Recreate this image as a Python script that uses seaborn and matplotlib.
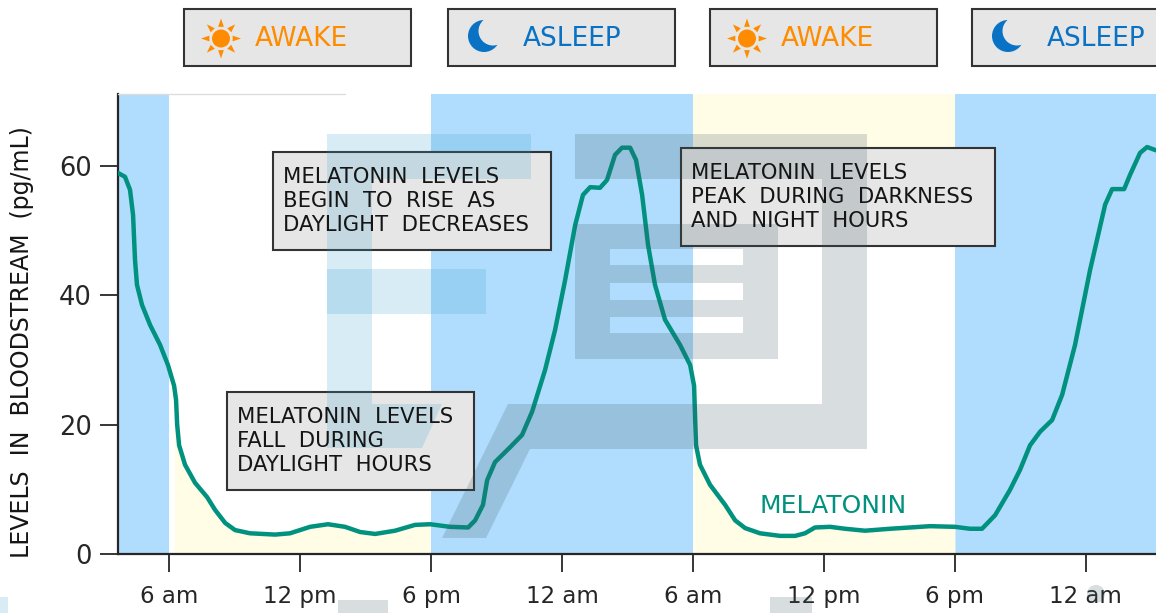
import numpy as np
import pandas as pd
import seaborn as sns
import matplotlib.pyplot as plt
from matplotlib.patches import Rectangle, Polygon, Circle

# hours counted from midnight of the first day
hours = [3.66, 3.98, 4.21, 4.35, 4.44, 4.53, 4.76, 5.13, 5.59, 5.95, 6.23, 6.32, 6.37, 6.46, 6.73,
         7.19, 7.74, 8.11, 8.57, 9.02, 9.71, 10.86, 11.54, 12.46, 13.28, 14.06, 14.75, 15.44, 16.35,
         17.27, 17.96, 18.87, 19.70, 20.02, 20.38, 20.57, 20.93, 21.62, 22.17, 22.63, 23.22, 23.68,
         24.14, 24.60, 24.96, 25.29, 25.74, 26.06, 26.43, 26.75, 27.12, 27.39, 27.67, 27.94, 28.26,
         28.72, 29.41, 29.87, 30.05, 30.10, 30.14, 30.32, 30.78, 31.47, 31.93, 32.39, 33.07, 33.99,
         34.68, 35.13, 35.59, 36.28, 36.97, 37.88, 39.03, 40.86, 42.0, 42.69, 43.24, 43.84, 44.52,
         44.98, 45.44, 45.90, 46.45, 46.91, 47.50, 48.19, 48.88, 49.2, 49.75, 50.02, 50.48, 50.80, 51.21]
melatonin = [58.9, 58.3, 56.3, 52.4, 45.4, 41.6, 38.5, 35.4, 32.3, 29.2, 26.0, 23.8, 20.0, 16.8, 13.8,
             11.0, 8.8, 6.8, 4.8, 3.7, 3.2, 3.0, 3.2, 4.2, 4.6, 4.2, 3.4, 3.1, 3.6,
             4.5, 4.6, 4.2, 4.1, 5.2, 7.6, 11.4, 14.2, 16.5, 18.4, 22.0, 28.4, 34.6,
             42.3, 50.8, 55.5, 56.7, 56.6, 57.8, 61.7, 62.8, 62.8, 60.9, 55.5, 47.8, 41.6,
             36.2, 32.3, 29.2, 26.0, 20.7, 16.8, 13.8, 10.7, 7.6, 5.2, 4.0, 3.2, 2.8,
             2.8, 3.2, 4.1, 4.2, 3.9, 3.6, 3.9, 4.3, 4.2, 3.9, 3.9, 6.0, 9.9,
             13.0, 16.8, 18.9, 20.7, 24.6, 32.3, 43.9, 54.0, 56.4, 56.4, 58.6, 62.0, 62.9, 62.4]
tick_hours = [6, 12, 18, 24, 30, 36, 42, 48]
tick_labels = ['6 am', '12 pm', '6 pm', '12 am', '6 am', '12 pm', '6 pm', '12 am']
y_ticks = [0, 20, 40, 60]
night_spans = [(3.66, 6), (18, 30), (42, 51.21)]
day_spans = [(6, 18), (30, 42)]
header_boxes = [(184, 411, 'AWAKE'), (448, 675, 'ASLEEP'), (710, 937, 'AWAKE'), (972, 1160, 'ASLEEP')]
notes = [(273, 152, 551, 250, 'MELATONIN  LEVELS\nBEGIN  TO  RISE  AS\nDAYLIGHT  DECREASES'),
         (227, 392, 474, 490, 'MELATONIN  LEVELS\nFALL  DURING\nDAYLIGHT  HOURS'),
         (681, 148, 995, 246, 'MELATONIN  LEVELS\nPEAK  DURING  DARKNESS\nAND  NIGHT  HOURS')]

SKY = '#b0dcfd'
CREAM = '#fffde6'
TEAL = '#00917f'
ORANGE = '#ff8c00'
BLUE = '#0a72c4'
GREY_WM = (60 / 255, 85 / 255, 100 / 255, .2)
BLUE_WM = (55 / 255, 160 / 255, 205 / 255, .2)

sns.set_style('ticks')
plt.rcParams['font.family'] = ['DejaVu Sans']

df = pd.DataFrame({'hour': hours, 'level': melatonin})

fig = plt.figure(figsize=(11.56, 6.13), dpi=100)
ax = fig.add_axes([118 / 1156, 59 / 613, 1038 / 1156, 460 / 613])
ax.set_xlim(3.66, 51.21)
ax.set_ylim(0, 71.1)

for a, b in night_spans:
    ax.axvspan(a, b, color=SKY, lw=0, zorder=1)
for a, b in day_spans:
    part = df.loc[(df['hour'] >= a) & (df['hour'] <= b), :]
    ax.fill_between(part['hour'], 0, part['level'], color=CREAM, lw=0, zorder=1)
ax.axvspan(30, 42, ymin=58 / 71.1, color=CREAM, lw=0, zorder=1)

sns.lineplot(x='hour', y='level', data=df, color=TEAL, lw=3.2, sort=False, estimator=None,
             ax=ax, zorder=6, solid_joinstyle='round', solid_capstyle='round')

ax.text(36.4, 7.4, 'MELATONIN', color=TEAL, fontsize=18, ha='center', va='center', zorder=7)

ax.set_xticks(tick_hours)
ax.set_xticklabels(tick_labels)
ax.set_yticks(y_ticks)
ax.tick_params(axis='x', length=13, width=1.3, labelsize=16.5, pad=9)
ax.tick_params(axis='y', length=13, width=1.3, labelsize=18.5, pad=6)
ax.set_xlabel('')
ax.set_ylabel('')
sns.despine(ax=ax)
ax.spines['left'].set_linewidth(1.6)
ax.spines['bottom'].set_linewidth(1.6)

# overlay in pixel coordinates for header boxes, notes and watermark
ov = fig.add_axes([0, 0, 1, 1], facecolor='none', zorder=5)
ov.set_xlim(0, 1156)
ov.set_ylim(613, 0)
ov.axis('off')

ov.plot([118, 345], [93.5, 93.5], color='#dddddd', lw=1, zorder=1)

for x0, y0, x1, y1, txt in notes:
    ov.add_patch(Rectangle((x0, y0), x1 - x0, y1 - y0, fc='#e6e6e6', ec='#333333', lw=1.5, zorder=2))
    ov.text(x0 + 10, (y0 + y1) / 2, txt, fontsize=15.2, color='#151515', va='center', ha='left',
            linespacing=1.27, zorder=7)

# watermark shapes
for x, y, w, h in [(327, 134, 204, 45), (327, 179, 45, 225), (327, 269, 159, 45)]:
    ov.add_patch(Rectangle((x, y), w, h, fc=BLUE_WM, lw=0, zorder=3))
ov.add_patch(Polygon([(327, 404), (442, 404), (422, 448), (327, 448)], fc=BLUE_WM, lw=0, zorder=3))
for x, y, w, h in [(575, 134, 292, 45), (822, 179, 45, 225), (575, 224, 203, 25), (575, 249, 35, 84),
                   (743, 249, 35, 84), (610, 265, 133, 18), (610, 300, 133, 17), (575, 333, 203, 26)]:
    ov.add_patch(Rectangle((x, y), w, h, fc=GREY_WM, lw=0, zorder=3))
ov.add_patch(Polygon([(508, 404), (867, 404), (867, 449), (530, 449), (486, 538), (442, 538)],
                     fc=GREY_WM, lw=0, zorder=3))
for x, y, w, h in [(338, 600, 50, 13), (770, 597, 42, 16)]:
    ov.add_patch(Rectangle((x, y), w, h, fc=GREY_WM, lw=0, zorder=3))
ov.add_patch(Rectangle((0, 597), 8, 16, fc=BLUE_WM, lw=0, zorder=3))
ov.add_patch(Circle((1096, 594), 9, fc=GREY_WM, lw=0, zorder=3))

# header boxes with sun and moon
for x0, x1, label in header_boxes:
    ov.add_patch(Rectangle((x0, 9), x1 - x0, 57, fc='#e6e6e6', ec='#333333', lw=1.5, zorder=2))
    if label == 'AWAKE':
        cx = x0 + 37
        ov.add_patch(Circle((cx, 38.5), 9, fc=ORANGE, lw=0, zorder=4))
        for ang in np.arange(8) * np.pi / 4:
            r0, r1, sp = 12, 20, .24
            ov.add_patch(Polygon([(cx + r1 * np.cos(ang), 38.5 + r1 * np.sin(ang)),
                                  (cx + r0 * np.cos(ang - sp), 38.5 + r0 * np.sin(ang - sp)),
                                  (cx + r0 * np.cos(ang + sp), 38.5 + r0 * np.sin(ang + sp))],
                                 fc=ORANGE, lw=0, zorder=4))
        ov.text(x0 + 71, 38.5, label, color=ORANGE, fontsize=19, va='center', ha='left', zorder=7)
    else:
        cx = x0 + 36
        ov.add_patch(Circle((cx, 36), 16, fc=BLUE, lw=0, zorder=4))
        ov.add_patch(Circle((cx + 9, 31), 14.5, fc='#e6e6e6', lw=0, zorder=4))
        ov.text(x0 + 75, 38.5, label, color=BLUE, fontsize=19, va='center', ha='left', zorder=7)

ov.text(22, 342, 'LEVELS  IN  BLOODSTREAM  (pg/mL)', rotation=90, fontsize=17, color='#151515',
        va='center', ha='center', zorder=7)

fig.savefig('out.png', dpi=100)
